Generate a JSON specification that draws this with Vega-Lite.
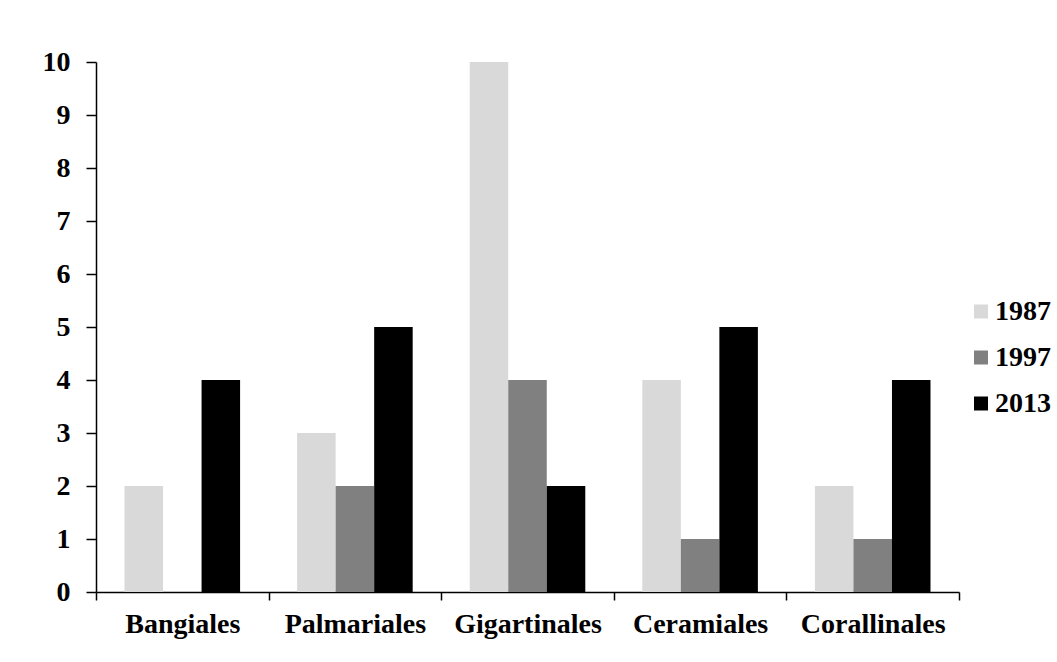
{
  "$schema": "https://vega.github.io/schema/vega-lite/v6.json",
  "width": 863,
  "height": 530,
  "autosize": {"type": "none"},
  "padding": {"left": 96, "top": 62, "right": 98, "bottom": 70},
  "background": "white",
  "data": {
    "values": [
      {"order": "Bangiales", "year": "1987", "count": 2},
      {"order": "Bangiales", "year": "1997", "count": 0},
      {"order": "Bangiales", "year": "2013", "count": 4},
      {"order": "Palmariales", "year": "1987", "count": 3},
      {"order": "Palmariales", "year": "1997", "count": 2},
      {"order": "Palmariales", "year": "2013", "count": 5},
      {"order": "Gigartinales", "year": "1987", "count": 10},
      {"order": "Gigartinales", "year": "1997", "count": 4},
      {"order": "Gigartinales", "year": "2013", "count": 2},
      {"order": "Ceramiales", "year": "1987", "count": 4},
      {"order": "Ceramiales", "year": "1997", "count": 1},
      {"order": "Ceramiales", "year": "2013", "count": 5},
      {"order": "Corallinales", "year": "1987", "count": 2},
      {"order": "Corallinales", "year": "1997", "count": 1},
      {"order": "Corallinales", "year": "2013", "count": 4}
    ]
  },
  "mark": {"type": "bar", "strokeWidth": 0},
  "encoding": {
    "x": {
      "field": "order",
      "type": "nominal",
      "sort": ["Bangiales", "Palmariales", "Gigartinales", "Ceramiales", "Corallinales"],
      "scale": {"paddingInner": 0, "paddingOuter": 0},
      "axis": {
        "title": null,
        "labelAngle": 0,
        "tickBand": "extent",
        "tickSize": 8,
        "labelPadding": 10,
        "labelFont": "Liberation Serif",
        "labelFontWeight": "bold",
        "labelFontSize": 28,
        "labelColor": "black",
        "domainColor": "black",
        "tickColor": "black",
        "domainWidth": 1.5,
        "tickWidth": 1.5
      }
    },
    "xOffset": {"field": "year", "type": "nominal", "scale": {"paddingInner": 0, "paddingOuter": 0.74}},
    "y": {
      "field": "count",
      "type": "quantitative",
      "scale": {"domain": [0, 10], "nice": false},
      "axis": {
        "title": null,
        "values": [0, 1, 2, 3, 4, 5, 6, 7, 8, 9, 10],
        "grid": false,
        "tickSize": 10,
        "labelPadding": 16,
        "labelFont": "Liberation Serif",
        "labelFontWeight": "bold",
        "labelFontSize": 28,
        "labelColor": "black",
        "domainColor": "black",
        "tickColor": "black",
        "domainWidth": 1.5,
        "tickWidth": 1.5
      }
    },
    "color": {
      "field": "year",
      "type": "nominal",
      "scale": {"domain": ["1987", "1997", "2013"], "range": ["#d9d9d9", "#808080", "#000000"]},
      "legend": {
        "title": null,
        "orient": "none",
        "legendX": 871,
        "legendY": 235.5,
        "padding": 0,
        "symbolType": "square",
        "symbolSize": 196,
        "symbolStrokeWidth": 0,
        "labelFont": "Liberation Serif",
        "labelFontWeight": "bold",
        "labelFontSize": 28,
        "labelColor": "black",
        "labelOffset": 0,
        "rowPadding": 18
      }
    }
  },
  "config": {"view": {"stroke": null}}
}
